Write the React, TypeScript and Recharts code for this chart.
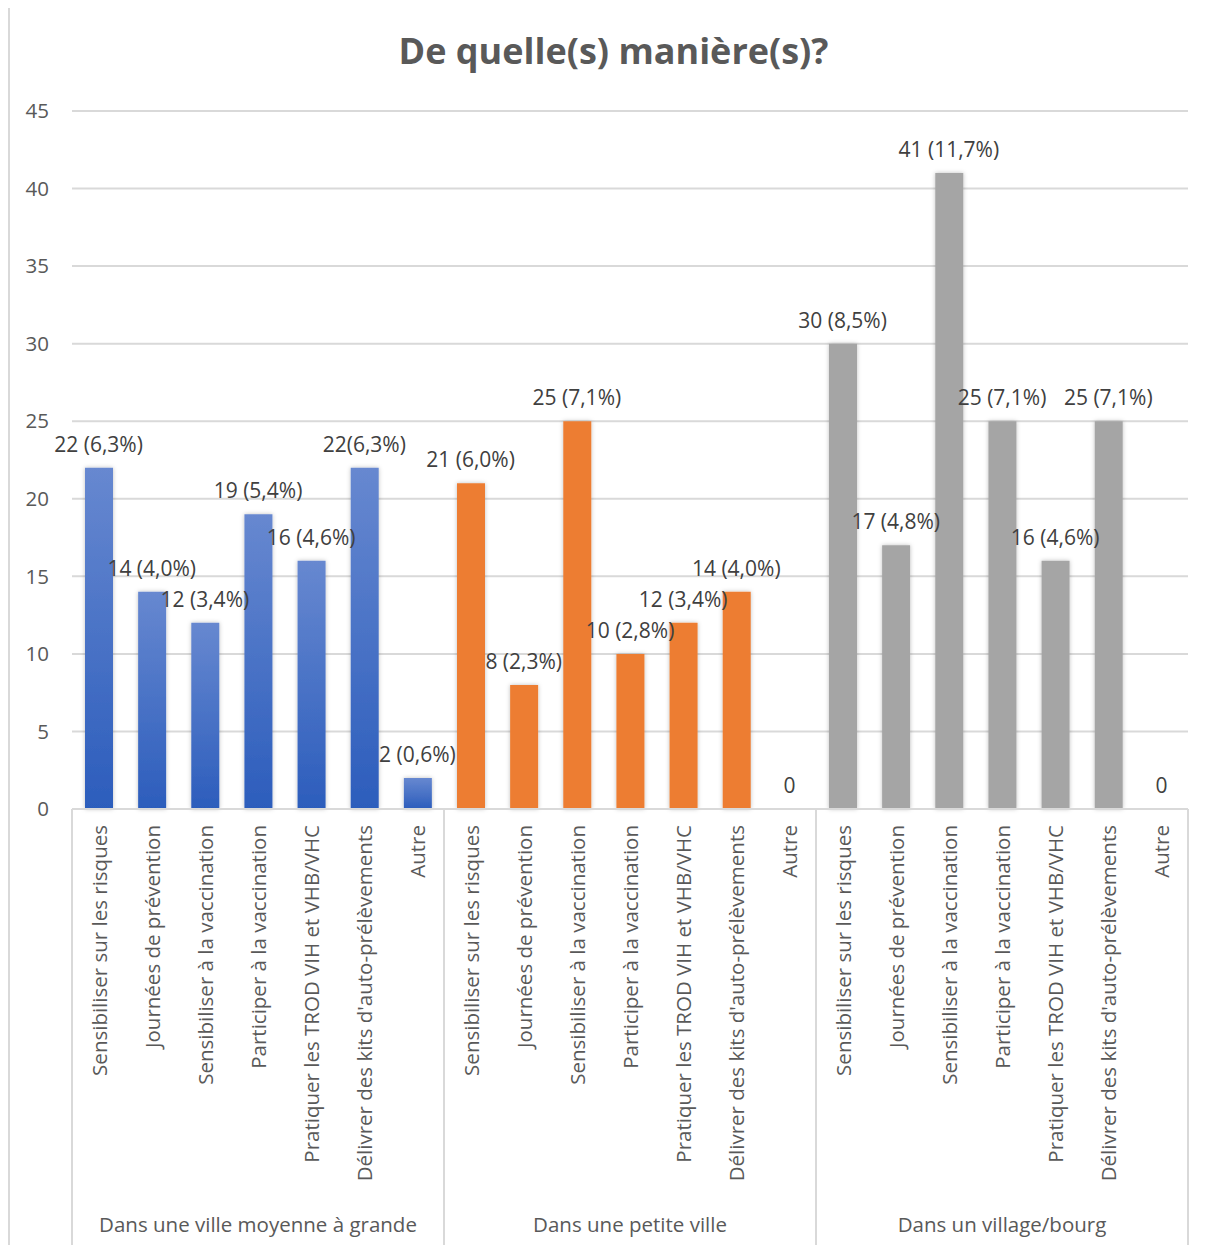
import { Bar, CartesianGrid, Cell, ComposedChart, Line, XAxis, YAxis } from 'recharts';

const categories = [
  'Sensibiliser sur les risques',
  'Journées de prévention',
  'Sensibiliser à la vaccination',
  'Participer à la vaccination',
  'Pratiquer les TROD VIH et VHB/VHC',
  "Délivrer des kits d'auto-prélèvements",
  'Autre',
];

const groups = ['Dans une ville moyenne à grande', 'Dans une petite ville', 'Dans un village/bourg'];

const villeValues = [22, 14, 12, 19, 16, 22, 2];
const petiteValues = [21, 8, 25, 10, 12, 14, 0];
const villageValues = [30, 17, 41, 25, 16, 25, 0];

const villeLabels = ['22 (6,3%)', '14 (4,0%)', '12 (3,4%)', '19 (5,4%)', '16 (4,6%)', '22(6,3%)', '2 (0,6%)'];
const petiteLabels = ['21 (6,0%)', '8 (2,3%)', '25 (7,1%)', '10 (2,8%)', '12 (3,4%)', '14 (4,0%)', '0'];
const villageLabels = ['30 (8,5%)', '17 (4,8%)', '41 (11,7%)', '25 (7,1%)', '16 (4,6%)', '25 (7,1%)', '0'];

const yTicks = [0, 5, 10, 15, 20, 25, 30, 35, 40, 45];

const groupFills = ['url(#blueGrad)', '#ed7d31', '#a5a5a5'];

const rows = [
  { values: villeValues, labels: villeLabels },
  { values: petiteValues, labels: petiteLabels },
  { values: villageValues, labels: villageLabels },
].flatMap((g, gi) =>
  categories.map((name, i) => ({
    key: `${gi}-${i}`,
    name,
    group: gi,
    value: g.values[i],
    label: g.labels[i],
  }))
);

const W = 1207;
const H = 1237;
const PLOT_BOTTOM = 801;
const M = { top: 103, right: 29, bottom: 0, left: 0 };
const Y_W = 62;
const BAND = (W - M.right - Y_W) / rows.length;
const FONT = '"Open Sans", sans-serif';
const TXT = '#595959';

const CategoryTick = (props: any) => {
  const { x, y, index } = props;
  const row = rows[index];
  const gi = Math.floor(index / 7);
  const pos = index % 7;
  return (
    <g>
      {pos === 0 && (
        <line x1={x - BAND / 2} x2={x - BAND / 2} y1={y} y2={H} stroke="#d9d9d9" strokeWidth={2} />
      )}
      {index === rows.length - 1 && (
        <line x1={x + BAND / 2} x2={x + BAND / 2} y1={y} y2={H} stroke="#d9d9d9" strokeWidth={2} />
      )}
      <text
        transform={`translate(${x},${y + 16}) rotate(-90)`}
        textAnchor="end"
        dominantBaseline="central"
        fill={TXT}
        fontSize={20.5}
        fontFamily={FONT}
      >
        {row ? row.name : ''}
      </text>
      {pos === 3 && (
        <text x={x} y={1216} textAnchor="middle" dominantBaseline="central" fill={TXT} fontSize={20.5} fontFamily={FONT}>
          {groups[gi]}
        </text>
      )}
    </g>
  );
};

const ValueLabel = (props: any) => {
  const { x, y, index } = props;
  const row = rows[index];
  if (!row) return null;
  return (
    <text
      x={x}
      y={y - 24}
      textAnchor="middle"
      dominantBaseline="central"
      fill="#404040"
      fontSize={21}
      fontFamily={FONT}
    >
      {row.label}
    </text>
  );
};

export default function App() {
  return (
    <div
      style={{
        position: 'relative',
        width: W + 4,
        height: H + 4,
        marginTop: -2,
        border: '2px solid #d9d9d9',
        boxSizing: 'border-box',
        background: '#fff',
        overflow: 'hidden',
      }}
    >
      <div
        style={{
          position: 'absolute',
          top: 25,
          left: 0,
          width: W,
          textAlign: 'center',
          fontFamily: FONT,
          fontWeight: 700,
          fontSize: 36,
          lineHeight: 1,
          color: TXT,
        }}
      >
        De quelle(s) manière(s)?
      </div>
      <ComposedChart width={W} height={H} data={rows} margin={M} barSize={28}>
        <defs>
          <linearGradient id="blueGrad" x1="0" y1="0" x2="0" y2="1">
            <stop offset="0%" stopColor="#6788d0" />
            <stop offset="100%" stopColor="#2c5dbc" />
          </linearGradient>
          <filter id="barShadow" x="-30%" y="-10%" width="160%" height="120%">
            <feDropShadow dx="0" dy="0" stdDeviation="2" floodColor="#000" floodOpacity="0.25" />
          </filter>
        </defs>
        <CartesianGrid vertical={false} stroke="#d9d9d9" strokeWidth={2} />
        <XAxis
          dataKey="key"
          interval={0}
          tickLine={false}
          tickSize={0}
          tickMargin={0}
          axisLine={{ stroke: '#d9d9d9', strokeWidth: 2 }}
          height={H - PLOT_BOTTOM}
          tick={<CategoryTick />}
        />
        <YAxis
          domain={[0, 45]}
          ticks={yTicks}
          width={Y_W}
          axisLine={false}
          tickLine={false}
          tickSize={0}
          tickMargin={23}
          tick={{ fill: TXT, fontSize: 20.5, fontFamily: FONT }}
        />
        <Bar dataKey="value" isAnimationActive={false}>
          {rows.map((r) => (
            <Cell key={r.key} fill={groupFills[r.group]} filter="url(#barShadow)" />
          ))}
        </Bar>
        <Line
          dataKey="value"
          stroke="none"
          dot={false}
          activeDot={false}
          legendType="none"
          isAnimationActive={false}
          label={<ValueLabel />}
        />
      </ComposedChart>
    </div>
  );
}
